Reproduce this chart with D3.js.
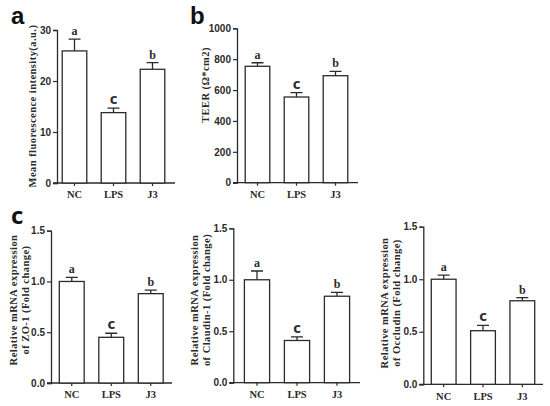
<!DOCTYPE html>
<html>
<head>
<meta charset="utf-8">
<script src="https://cdn.jsdelivr.net/npm/d3@7"></script>
<style>
  body { margin: 0; background: #fff; }
  svg text { fill: #222; }
</style>
</head>
<body>
<svg id="chart" width="550" height="406"></svg>
<script>
const categories = ["NC", "LPS", "J3"];
const sigLetters = ["a", "c", "b"];

const fluorMean = [25.9, 13.8, 22.3];
const fluorErr = [2.3, 0.9, 1.3];
const teerMean = [754, 555, 693];
const teerErr = [23, 28, 28];
const zo1Mean = [1.0, 0.45, 0.88];
const zo1Err = [0.04, 0.04, 0.035];
const claudinMean = [1.0, 0.41, 0.84];
const claudinErr = [0.085, 0.035, 0.037];
const occludinMean = [1.0, 0.51, 0.795];
const occludinErr = [0.04, 0.05, 0.03];

const fluorTicks = [0, 10, 20, 30];
const teerTicks = [0, 200, 400, 600, 800, 1000];
const mrnaTicks = [0, 0.5, 1.0, 1.5];

const serif = "'Liberation Serif', 'Times New Roman', serif";
const sans = "'Liberation Sans', Arial, sans-serif";
const ink = "#2b2b2b";

const svg = d3.select("#chart");

// panel layouts (pixel boxes only; values come from the arrays above)
const panels = [
  { mean: fluorMean, err: fluorErr, ticks: fluorTicks, fmt: d3.format("d"),
    axisX: 57, xr: [55, 172], xEnd: 175, yr: [183, 30], max: 30,
    title: ["Mean fluorescence intensity(a.u.)"], titleX: [32], titleY: 106 },
  { mean: teerMean, err: teerErr, ticks: teerTicks, fmt: d3.format("d"),
    axisX: 237, xr: [238, 355], xEnd: 358, yr: [182.7, 28.3], max: 1000,
    title: ["TEER (Ω*cm2)"], titleX: [205], titleY: 85 },
  { mean: zo1Mean, err: zo1Err, ticks: mrnaTicks, fmt: d3.format(".1f"),
    axisX: 51, xr: [52, 170.5], xEnd: 172, yr: [383, 230.7], max: 1.5,
    title: ["Relative mRNA expression", "of ZO-1 (Fold change)"], titleX: [13, 25], titleY: 300 },
  { mean: claudinMean, err: claudinErr, ticks: mrnaTicks, fmt: d3.format(".1f"),
    axisX: 233.3, xr: [237, 357], xEnd: 360, yr: [382.7, 228.3], max: 1.5,
    title: ["Relative mRNA expression", "of Claudin-1 (Fold change)"], titleX: [194, 206], titleY: 300 },
  { mean: occludinMean, err: occludinErr, ticks: mrnaTicks, fmt: d3.format(".1f"),
    axisX: 423.3, xr: [424, 542], xEnd: 543, yr: [384.3, 226.7], max: 1.5,
    title: ["Relative mRNA expression", "of Occludin (Fold change)"], titleX: [384, 396], titleY: 303 }
];

panels.forEach(p => drawPanel(p));

function drawPanel(p) {
  const x = d3.scaleBand().domain(categories).range(p.xr).paddingInner(0.37).paddingOuter(0.185);
  const y = d3.scaleLinear().domain([0, p.max]).range(p.yr);
  const g = svg.append("g");
  const rows = categories.map((c, i) => ({ c, m: p.mean[i], e: p.err[i], s: sigLetters[i] }));

  // y axis
  const yAxis = d3.axisLeft(y).tickValues(p.ticks).tickFormat(p.fmt).tickSize(4).tickPadding(2);
  const ya = g.append("g").attr("transform", `translate(${p.axisX},0)`).call(yAxis);
  ya.select(".domain").attr("stroke", ink).attr("stroke-width", 1.3);
  ya.selectAll(".tick line").attr("stroke", ink).attr("stroke-width", 1.2);
  ya.selectAll(".tick text").attr("font-family", sans).attr("font-weight", "bold")
    .attr("font-size", 10).style("fill", ink);

  // x axis
  const xAxis = d3.axisBottom(x).tickSize(3).tickPadding(5).tickSizeOuter(0);
  const xa = g.append("g").attr("transform", `translate(0,${p.yr[0]})`).call(xAxis);
  xa.select(".domain").remove();
  xa.append("line").attr("x1", p.axisX - 4).attr("x2", p.xEnd)
    .attr("stroke", ink).attr("stroke-width", 1.3);
  xa.selectAll(".tick line").attr("stroke", ink).attr("stroke-width", 1.2);
  xa.selectAll(".tick text").attr("font-family", serif).attr("font-weight", "bold")
    .attr("font-size", 10.5).style("fill", ink);

  // error bars
  const cap = 6;
  g.selectAll(".err").data(rows).join("path")
    .attr("d", d => {
      const cx = x(d.c) + x.bandwidth() / 2;
      return `M${cx},${y(d.m)}V${y(d.m + d.e)}M${cx - cap},${y(d.m + d.e)}H${cx + cap}`;
    })
    .attr("stroke", ink).attr("stroke-width", 1.3).attr("fill", "none");

  // bars
  g.selectAll(".bar").data(rows).join("rect")
    .attr("x", d => x(d.c)).attr("width", x.bandwidth())
    .attr("y", d => y(d.m)).attr("height", d => y(0) - y(d.m))
    .attr("fill", "#fff").attr("stroke", ink).attr("stroke-width", 1.3);

  // significance letters
  g.selectAll(".sig").data(rows).join("text")
    .attr("x", d => x(d.c) + x.bandwidth() / 2)
    .attr("y", d => y(d.m + d.e) - 4)
    .attr("text-anchor", "middle")
    .attr("font-weight", "bold")
    .attr("font-family", d => d.s === "c" ? "'Open Sans', sans-serif" : serif)
    .attr("font-size", d => d.s === "c" ? 15 : 12)
    .style("fill", ink)
    .text(d => d.s);

  // y title
  p.title.forEach((t, i) => {
    g.append("text")
      .attr("transform", `translate(${p.titleX[i]},${p.titleY}) rotate(-90)`)
      .attr("text-anchor", "middle").attr("dy", "0.35em")
      .attr("font-family", serif).attr("font-weight", "bold").attr("font-size", 10.5)
      .attr("letter-spacing", 0.45)
      .style("fill", ink)
      .text(t);
  });
}

// panel letters
const panelLabels = [
  { t: "a", x: 11, y: 24 },
  { t: "b", x: 190, y: 24 },
  { t: "c", x: 11, y: 224 }
];
svg.selectAll(".plabel").data(panelLabels).join("text")
  .attr("x", d => d.x).attr("y", d => d.y)
  .attr("font-family", d => d.t === "c" ? "'Open Sans', sans-serif" : sans)
  .attr("font-weight", "bold").attr("font-size", 24)
  .style("fill", "#111")
  .text(d => d.t);
</script>
</body>
</html>
